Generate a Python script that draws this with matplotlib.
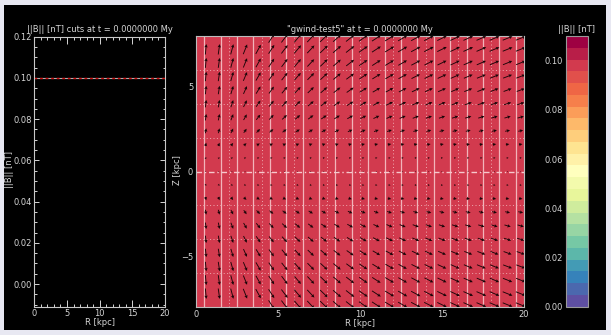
import numpy as np
import matplotlib
matplotlib.use('Agg')
import matplotlib.pyplot as plt
from matplotlib.colors import BoundaryNorm
from matplotlib.patches import Rectangle
from matplotlib.ticker import MultipleLocator

# ---------------- data ----------------
# left panel: |B| cut along R
cut_R = [0.0, 5.0, 10.0, 15.0, 20.0]
cut_B = [0.10, 0.10, 0.10, 0.10, 0.10]

# middle panel: |B| map (uniform)
map_R_edges = np.arange(0.0, 20.01, 1.0)
map_z_edges = np.arange(-8.0, 8.01, 1.0)
map_B_value = 0.10

# mesh / block boundaries drawn on the map
cell_R_lines = np.arange(0.5, 20.0, 1.0)
block_R_lines = [2, 4, 6, 8, 10, 12, 14, 16, 18]
block_z_lines = [-6, -4, -2, 2, 4, 6]

# velocity arrows (sampling grid)
arrow_R = np.round(np.arange(0.6, 20.0, 0.8), 2)          # 25 columns
arrow_z = np.round(np.arange(-7.2, 7.21, 0.8), 2)          # 19 rows
# radial component factor per column (read from arrow tilt)
arrow_ur_col = [0.09, 0.14, 0.27, 0.40, 0.55, 0.65, 0.75, 0.84, 0.93, 1.03,
                1.15, 1.28, 1.43, 1.54, 1.66, 1.73, 1.88, 1.96, 2.05, 2.14,
                2.25, 2.30, 2.36, 2.48, 2.48]
# vertical component factor and arrow length (px) for |z| = 0, 0.8, ..., 7.2
arrow_wz_abs = [0.0, 0.15, 0.35, 0.55, 0.70, 0.80, 0.90, 0.95, 1.00, 1.00]
arrow_len_abs = [1.0, 2.0, 3.5, 5.0, 6.5, 7.5, 8.5, 9.5, 10.0, 10.5]
# partially visible arrows along the top / bottom edge
edge_arrow_z = [7.85, -7.85]
edge_arrow_Rmin = 4.6

cbar_levels = np.linspace(0.0, 0.11, 24)
cbar_ticks = [0.00, 0.02, 0.04, 0.06, 0.08, 0.10]

# ---------------- figure ----------------
W, H = 611, 335
fig = plt.figure(figsize=(W / 100, H / 100), dpi=100)
fig.patch.set_facecolor('#e8e8f2')
fig.patches.append(Rectangle((4 / W, 5 / H), 602 / W, 325 / H,
                             transform=fig.transFigure, facecolor='black',
                             edgecolor='none', zorder=-10))

TXT = '#d6d6d6'
FS = 6


def pax(x0, y0, x1, y1):
    return [x0 / W, 1 - y1 / H, (x1 - x0) / W, (y1 - y0) / H]


# ---- left panel ----
ax1 = fig.add_axes(pax(34.3, 36.7, 165.0, 306.7))
ax1.set_facecolor('black')
ax1.plot(cut_R, cut_B, color='#b0b0b0', lw=0.8)
ax1.plot(cut_R, cut_B, color='#d01010', lw=1.0, dashes=(2, 2))
ax1.set_xlim(0, 20)
ax1.set_ylim(-0.011, 0.12)
ax1.xaxis.set_major_locator(MultipleLocator(5))
ax1.xaxis.set_minor_locator(MultipleLocator(1))
ax1.yaxis.set_major_locator(MultipleLocator(0.02))
ax1.yaxis.set_minor_locator(MultipleLocator(0.005))
ax1.yaxis.set_major_formatter(matplotlib.ticker.FormatStrFormatter('%.2f'))
ax1.tick_params(axis='both', which='both', direction='in', colors=TXT,
                labelsize=FS, top=True, right=True, width=0.7)
ax1.tick_params(axis='x', which='major', length=5, pad=2)
ax1.tick_params(axis='x', which='minor', length=2.5)
ax1.tick_params(axis='y', which='major', length=3.5, pad=2)
ax1.tick_params(axis='y', which='minor', length=1.8)
for s in ax1.spines.values():
    s.set_color('#c8c8c8')
    s.set_linewidth(0.8)
ax1.set_xlabel('R [kpc]', color=TXT, fontsize=FS, labelpad=0)

# ---- middle panel ----
ax2 = fig.add_axes(pax(196.0, 35.7, 524.0, 307.3))
cmap = plt.get_cmap('Spectral_r')
norm = BoundaryNorm(cbar_levels, cmap.N)
Bmap = np.full((len(map_z_edges) - 1, len(map_R_edges) - 1), map_B_value)
mesh = ax2.pcolormesh(map_R_edges, map_z_edges, Bmap, cmap=cmap, norm=norm,
                      shading='flat')
for r in cell_R_lines:
    ax2.axvline(r, color='#f2b4ba', lw=0.9, zorder=2)
for r in block_R_lines:
    ax2.axvline(r, color='#eeaab0', lw=0.7, ls=(0, (1, 2.5)), zorder=2)
for z in block_z_lines:
    ax2.axhline(z, color='#eeaab0', lw=0.7, ls=(0, (1, 2.5)), zorder=2)
ax2.axhline(0, color='#f6c8cc', lw=1.0, ls=(0, (4, 2, 1, 2)), zorder=2)

RR, ZZ = [], []
UU, WW = [], []
for z in arrow_z:
    idx = int(round(abs(z) / 0.8))
    wz = np.sign(z) * arrow_wz_abs[idx]
    L = arrow_len_abs[idx]
    for j, r in enumerate(arrow_R):
        ang = np.arctan2(wz, arrow_ur_col[j])
        RR.append(r); ZZ.append(z)
        UU.append(L * np.cos(ang)); WW.append(L * np.sin(ang))
for z in edge_arrow_z:
    L = arrow_len_abs[-1]
    wz = np.sign(z) * arrow_wz_abs[-1]
    for j, r in enumerate(arrow_R):
        if r < edge_arrow_Rmin:
            continue
        ang = np.arctan2(wz, arrow_ur_col[j])
        RR.append(r); ZZ.append(z)
        UU.append(L * np.cos(ang)); WW.append(L * np.sin(ang))

ax2.quiver(RR, ZZ, UU, WW, angles='uv', scale_units='dots', scale=1.0,
           pivot='middle', color='#1a0508', width=0.9, units='dots',
           headwidth=3.8, headlength=3.8, headaxislength=3.2, zorder=3,
           clip_on=True)
ax2.set_xlim(0, 20)
ax2.set_ylim(-8, 8)
ax2.xaxis.set_major_locator(MultipleLocator(5))
ax2.yaxis.set_major_locator(MultipleLocator(5))
ax2.tick_params(axis='both', which='both', direction='in', colors=TXT,
                labelsize=FS, length=0, pad=2)
for s in ax2.spines.values():
    s.set_color('#bdbdbd')
    s.set_linewidth(0.8)
ax2.set_xlabel('R [kpc]', color=TXT, fontsize=FS, labelpad=0)

# ---- colorbar ----
cax = fig.add_axes(pax(565.7, 36.0, 587.7, 306.7))
cb = fig.colorbar(mesh, cax=cax, ticks=cbar_ticks)
cb.ax.yaxis.set_ticks_position('left')
cb.ax.yaxis.set_major_formatter(matplotlib.ticker.FormatStrFormatter('%.2f'))
cb.ax.tick_params(colors=TXT, labelsize=FS, length=0, pad=2)
cb.outline.set_edgecolor('#9a9a9a')
cb.outline.set_linewidth(0.8)

# ---- texts ----
fig.text(99.5 / W, 1 - 30 / H, '||B|| [nT] cuts at t = 0.0000000 My',
         color=TXT, fontsize=FS, ha='center', va='center')
fig.text(360 / W, 1 - 30 / H, '"gwind-test5" at t = 0.0000000 My',
         color=TXT, fontsize=FS, ha='center', va='center')
fig.text(576.7 / W, 1 - 30 / H, '||B|| [nT]', color=TXT, fontsize=FS,
         ha='center', va='center')
fig.text(10 / W, 1 - 170 / H, '||B|| [nT]', color=TXT, fontsize=FS,
         ha='center', va='center', rotation=90)
fig.text(177 / W, 1 - 170 / H, 'Z [kpc]', color=TXT, fontsize=FS,
         ha='center', va='center', rotation=90)

fig.savefig('out.png', dpi=100, facecolor=fig.get_facecolor())
